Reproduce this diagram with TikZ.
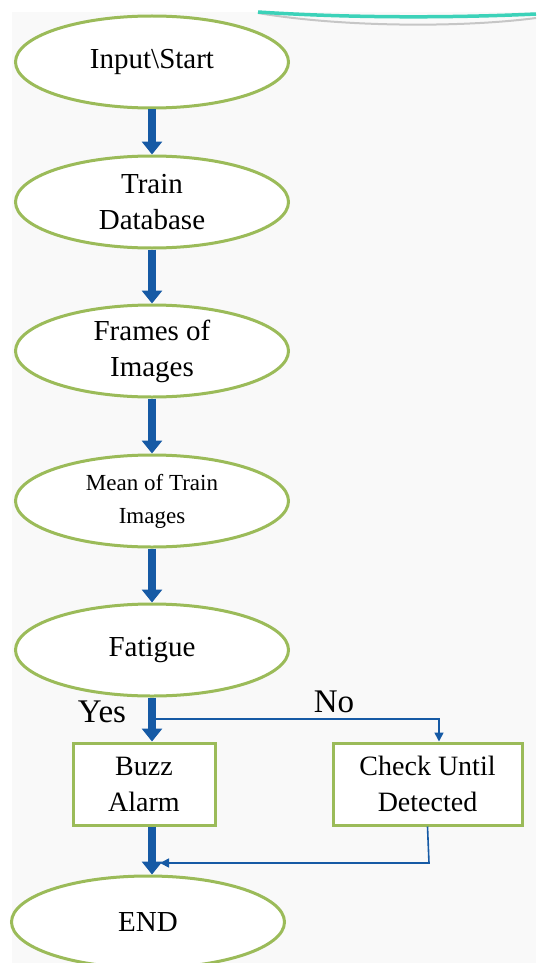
\documentclass[tikz,border=0pt]{standalone}
\usepackage{fontspec}
\setmainfont{Liberation Serif}
\usetikzlibrary{arrows.meta,shapes.geometric}
\definecolor{frgreen}{RGB}{155,187,89}
\definecolor{frblue}{RGB}{22,90,165}
\definecolor{bgpaper}{RGB}{249,249,249}
\definecolor{decoteal}{RGB}{60,210,185}
\tikzset{
  oval/.style={ellipse, draw=frgreen, line width=3pt, fill=white, minimum width=273pt, minimum height=92pt, inner sep=0pt, align=center, font=\fontsize{29}{36}\selectfont},
  smalloval/.style={oval, font=\fontsize{23}{33}\selectfont},
  rbox/.style={rectangle, draw=frgreen, line width=3pt, fill=white, inner sep=0pt, align=center, font=\fontsize{28}{36}\selectfont},
  thickarrow/.style={draw=frblue, line width=8pt, -{Triangle[width=20pt,length=13pt]}},
  thinarrow/.style={draw=frblue, line width=1.6pt, -{Triangle[width=9pt,length=9pt]}},
  lbl/.style={font=\fontsize{33}{38}\selectfont, inner sep=0pt}
}
\begin{document}
\begin{tikzpicture}[x=1pt,y=-1pt]
\useasboundingbox (0,0) rectangle (536,963);
\fill[bgpaper] (12,12) rectangle (536,963);
\draw[gray!45, line width=2pt] (258,13) .. controls (340,27) and (460,28) .. (536,18);
\draw[decoteal, line width=3.5pt] (258,12) .. controls (350,18) and (450,18) .. (536,14);

\node[oval] (e1) at (152,62) {Input\textbackslash Start};
\node[oval] (e2) at (152,202) {Train\\Database};
\node[oval] (e3) at (152,351) {Frames of\\Images};
\node[smalloval] (e4) at (152,501) {Mean of Train\\Images};
\node[oval] (e5) at (152,650) {Fatigue};
\node[oval] (e6) at (148,922) {END};

\node[rbox, minimum width=142pt, minimum height=82pt] (buzz) at (144,784) {Buzz\\Alarm};
\node[rbox, minimum width=189pt, minimum height=82pt] (chk) at (427.5,784) {Check Until\\Detected};

\node[lbl] (yes) at (102,712) {Yes};
\node[lbl] (no) at (334,702) {No};

\draw[thickarrow] (e1) -- (e2);
\draw[thickarrow] (e2) -- (e3);
\draw[thickarrow] (e3) -- (e4);
\draw[thickarrow] (e4) -- (e5);
\draw[thickarrow] (e5.south) -- (e5.south |- buzz.north);
\draw[thickarrow] (e5.south |- buzz.south) -- (e6.north -| e5.south);

\coordinate (j) at (156,719);
\coordinate (ca) at (439,719);
\draw[thinarrow] (j) -- (ca) -- (ca |- chk.north);
\coordinate (m) at (429,863);
\coordinate (mt) at (160,863);
\draw[thinarrow] (chk.south) -- (m) -- (mt);
\end{tikzpicture}
\end{document}
